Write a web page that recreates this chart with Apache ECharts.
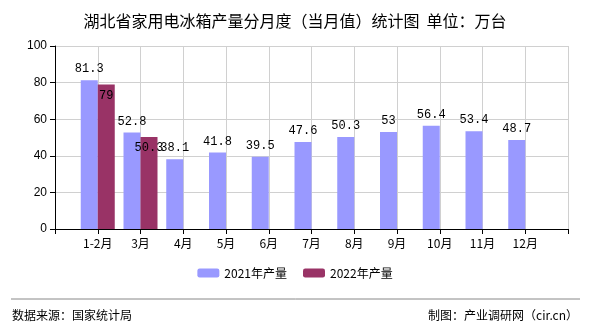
<!DOCTYPE html>
<html><head><meta charset="utf-8">
<script src="https://cdn.jsdelivr.net/npm/echarts@6/dist/echarts.min.js"></script>
<style>html,body{margin:0;padding:0;background:#fff}#c{width:590px;height:330px}</style>
</head><body><div id="c"></div>
<script>
const categories = ['', '1-2月', '3月', '4月', '5月', '6月', '7月', '8月', '9月', '10月', '11月', '12月', ''];
const series2021 = [null, 81.3, 52.8, 38.1, 41.8, 39.5, 47.6, 50.3, 53, 56.4, 53.4, 48.7, null];
const series2022 = [null, 79, 50.3, null, null, null, null, null, null, null, null, null, null];
const seriesNames = ['2021年产量', '2022年产量'];
const titleText = '湖北省家用电冰箱产量分月度（当月值）统计图  单位：万台';
const sourceText = '数据来源：国家统计局';
const creditText = '制图：产业调研网（cir.cn）';

const chart = echarts.init(document.getElementById('c'), null, {renderer: 'canvas'});
const labelFont = {fontFamily: 'Liberation Mono, monospace', fontSize: 12, color: '#000'};
chart.setOption({
  animation: false,
  backgroundColor: '#fff',
  title: {text: titleText, left: 'center', top: 8,
    textStyle: {fontSize: 16, fontWeight: 'normal', color: '#000', fontFamily: 'Noto Sans CJK SC'}},
  legend: {bottom: 46, left: 'center', itemWidth: 22, itemHeight: 9, itemGap: 16,
    textStyle: {fontSize: 12, color: '#000', fontFamily: 'Noto Sans CJK SC'},
    data: seriesNames},
  grid: {left: 55, right: 22, top: 46, bottom: 101},
  xAxis: {type: 'category', data: categories, boundaryGap: false,
    axisLine: {lineStyle: {color: '#000'}},
    axisTick: {show: true, length: 5, lineStyle: {color: '#000'}},
    axisLabel: {color: '#000', fontSize: 12, margin: 8, interval: 0, fontFamily: 'Noto Sans CJK SC'},
    splitLine: {show: true, lineStyle: {color: '#d0d0d0'}}},
  yAxis: {type: 'value', min: 0, max: 100, interval: 20,
    axisLine: {show: true, lineStyle: {color: '#000'}},
    axisTick: {show: true, length: 5, lineStyle: {color: '#000'}},
    axisLabel: {color: '#000', fontSize: 12, margin: 8, fontFamily: 'Liberation Sans'},
    splitLine: {show: true, lineStyle: {color: '#d0d0d0'}}},
  series: [
    {name: seriesNames[0], type: 'bar', data: series2021, barWidth: 17, barGap: '0%',
      itemStyle: {color: '#9999FF'},
      label: {show: true, position: 'top', distance: 5, ...labelFont}},
    {name: seriesNames[1], type: 'bar', data: series2022, barWidth: 17,
      itemStyle: {color: '#993366'},
      label: {show: true, position: 'insideTop', distance: 5, ...labelFont}}
  ],
  graphic: [
    {type: 'line', shape: {x1: 11, y1: 299, x2: 580, y2: 299}, style: {stroke: '#888', lineWidth: 1}},
    {type: 'text', left: 12, top: 309, style: {text: sourceText, fontSize: 12, fill: '#000', fontFamily: 'Noto Sans CJK SC'}},
    {type: 'text', right: 12, top: 309, style: {text: creditText, fontSize: 12, fill: '#000', fontFamily: 'Noto Sans CJK SC'}}
  ]
});
</script></body></html>
